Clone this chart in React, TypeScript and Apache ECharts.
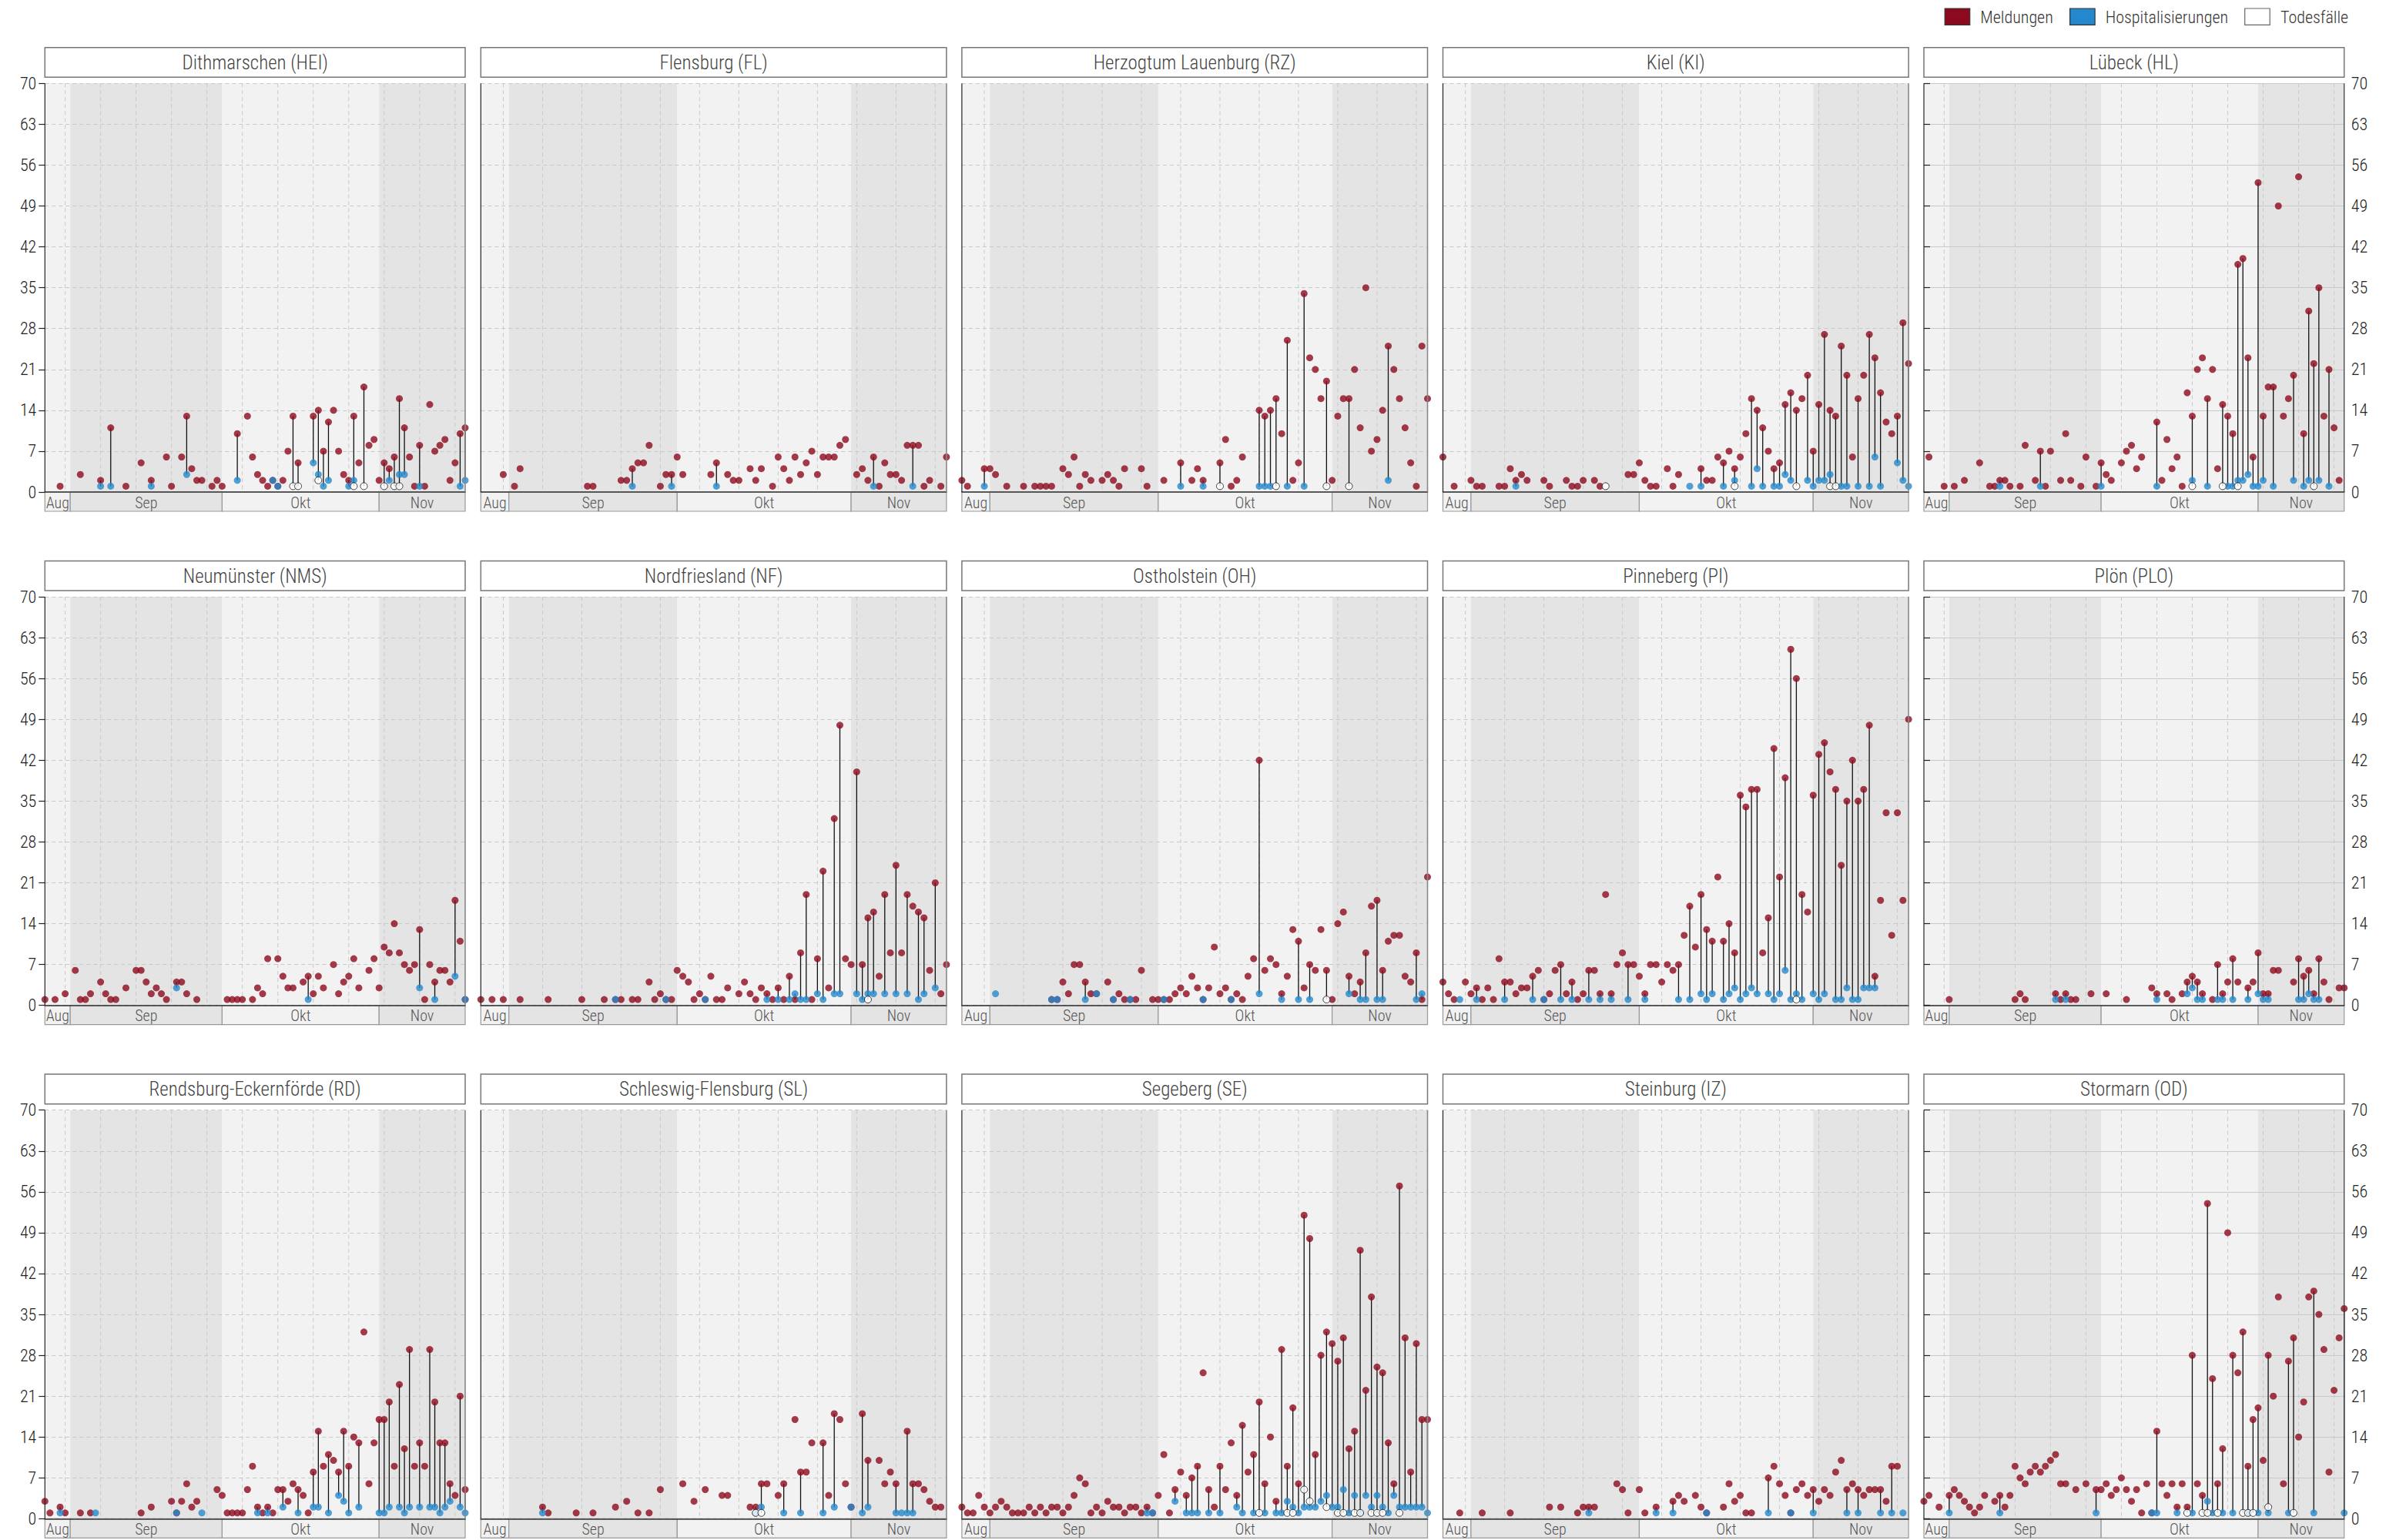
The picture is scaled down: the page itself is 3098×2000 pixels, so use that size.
import React, { useEffect, useRef } from "react";
import * as echarts from "echarts";

const FONT = "'Roboto Condensed', 'Liberation Sans Narrow', 'Arial Narrow', 'Roboto', sans-serif";
const FW = 300;
const RED = "#8C0A1E";
const BLUE = "#2588CC";
const BAND_LIGHT = "#f2f2f2";
const BAND_DARK = "#e4e4e4";

// x axis: day index, 0 = 2020-08-27, 83 = 2020-11-18
const X_MAX = 83;
const Y_MAX = 70;
const Y_STEP = 7;
const MONTH_LABELS = ["Aug", "Sep", "Okt", "Nov"];
const MONTH_START = [0, 5, 35, 66];
const MONTH_END = [5, 35, 66, 83];
const MONDAYS = [4, 11, 18, 25, 32, 39, 46, 53, 60, 67, 74, 81];
const LEGEND = ["Meldungen", "Hospitalisierungen", "Todesfälle"];

// ---- data: [day, value] ----
const HEI_MELD = [[3,1],[7,3],[11,2],[13,11],[16,1],[19,5],[21,2],[24,6],[25,1],[27,6],[28,13],[29,4],[30,2],[31,2],[33,1],[34,2],[35,1],[38,10],[40,13],[41,6],[42,3],[43,2],[44,1],[45,2],[46,1],[47,2],[48,7],[49,13],[50,5],[53,13],[54,14],[55,7],[56,12],[57,14],[58,7],[59,3],[60,2],[61,13],[62,5],[63,18],[64,8],[65,9],[66,2],[67,5],[68,4],[69,6],[70,16],[71,11],[72,6],[73,1],[74,8],[75,1],[76,15],[77,7],[78,8],[79,9],[80,2],[81,5],[82,10],[83,11]];
const HEI_HOSP = [[11,1],[13,1],[21,1],[28,3],[38,2],[45,2],[46,1],[53,5],[54,3],[55,1],[56,2],[60,1],[61,2],[68,2],[70,3],[71,3],[74,1],[82,1],[83,2]];
const HEI_TOD = [[49,1],[50,1],[54,2],[61,1],[63,1],[67,1],[69,1],[70,1]];

const FL_MELD = [[4,3],[6,1],[7,4],[19,1],[20,1],[25,2],[26,2],[27,4],[28,5],[29,5],[30,8],[32,1],[33,3],[34,3],[35,6],[36,3],[41,3],[42,5],[44,3],[45,2],[46,2],[48,4],[49,2],[50,4],[52,1],[53,6],[54,4],[55,2],[56,6],[57,3],[58,5],[59,7],[60,3],[61,6],[62,6],[63,6],[64,8],[65,9],[67,3],[68,4],[69,2],[70,6],[71,1],[72,5],[73,3],[74,3],[75,2],[76,8],[77,8],[78,8],[79,1],[80,2],[82,1],[83,6]];
const FL_HOSP = [[27,1],[34,1],[42,1],[70,1],[77,1]];
const FL_TOD: number[][] = [];

const RZ_MELD = [[0,2],[1,1],[4,4],[5,4],[6,3],[8,1],[11,1],[13,1],[14,1],[15,1],[16,1],[18,4],[19,3],[20,6],[21,1],[22,3],[23,2],[25,2],[26,3],[27,2],[28,1],[29,4],[32,4],[33,1],[36,2],[39,5],[41,2],[42,4],[43,2],[46,5],[47,9],[48,1],[49,2],[50,6],[53,14],[54,13],[55,14],[56,16],[57,10],[58,26],[59,2],[60,5],[61,34],[62,23],[63,21],[64,16],[65,19],[66,2],[67,13],[68,16],[69,16],[70,21],[71,11],[72,35],[73,7],[74,9],[75,14],[76,25],[77,21],[78,16],[79,11],[80,5],[81,1],[82,25],[83,16]];
const RZ_HOSP = [[4,1],[39,1],[43,1],[53,1],[54,1],[55,1],[58,1],[61,1],[76,2]];
const RZ_TOD = [[46,1],[56,1],[65,1],[69,1]];

const KI_MELD = [[0,6],[2,1],[5,2],[6,1],[7,1],[10,1],[11,1],[12,4],[13,2],[14,3],[15,2],[18,2],[19,1],[22,2],[23,1],[24,1],[25,2],[27,2],[28,1],[33,3],[34,3],[35,5],[36,2],[37,1],[38,1],[40,4],[41,1],[42,3],[46,4],[47,2],[48,2],[49,6],[50,5],[51,7],[52,4],[53,6],[54,10],[55,16],[56,14],[57,11],[58,7],[59,4],[60,5],[61,15],[62,17],[63,14],[64,16],[65,20],[66,7],[67,15],[68,27],[69,14],[70,13],[71,25],[72,20],[73,6],[74,16],[75,20],[76,27],[77,23],[78,17],[79,12],[80,10],[81,13],[82,29],[83,22]];
const KI_HOSP = [[13,1],[44,1],[46,1],[50,1],[52,2],[55,1],[56,4],[57,1],[59,1],[60,1],[61,3],[62,2],[65,2],[66,1],[67,2],[68,2],[69,3],[71,1],[72,1],[74,1],[76,1],[77,6],[78,1],[81,5],[82,2],[83,1]];
const KI_TOD = [[29,1],[52,1],[63,1],[69,1],[70,1]];

const HL_MELD = [[1,6],[4,1],[6,1],[8,2],[11,5],[13,1],[14,1],[15,2],[16,2],[17,1],[19,1],[20,8],[22,2],[23,7],[24,1],[25,7],[27,2],[28,10],[29,2],[31,1],[32,6],[34,1],[35,5],[36,3],[37,2],[39,5],[40,7],[41,8],[42,4],[43,6],[46,12],[47,2],[48,9],[49,4],[50,6],[51,1],[52,17],[53,13],[54,21],[55,23],[56,16],[57,21],[58,4],[59,15],[60,13],[61,10],[62,39],[63,40],[64,23],[65,6],[66,53],[67,13],[68,18],[69,18],[70,49],[71,13],[72,16],[73,20],[74,54],[75,10],[76,31],[77,22],[78,35],[79,13],[80,21],[81,11],[82,2]];
const HL_HOSP = [[15,1],[23,1],[35,1],[46,1],[53,2],[56,1],[60,1],[61,1],[62,2],[63,2],[64,3],[65,1],[66,1],[67,2],[69,1],[73,2],[75,1],[76,2],[78,2],[80,1]];
const HL_TOD = [[53,1],[59,1],[62,1],[77,1]];

const NMS_MELD = [[0,1],[2,1],[4,2],[6,6],[7,1],[8,1],[9,2],[11,4],[12,2],[13,1],[14,1],[16,3],[18,6],[19,6],[20,4],[21,2],[22,3],[23,2],[24,1],[26,4],[27,4],[28,2],[30,1],[36,1],[37,1],[38,1],[39,1],[41,1],[42,3],[43,2],[44,8],[46,8],[47,5],[48,3],[49,3],[51,4],[52,5],[53,2],[54,5],[55,3],[57,7],[58,2],[59,4],[60,5],[61,8],[62,3],[64,6],[65,8],[66,3],[67,10],[68,9],[69,14],[70,9],[71,7],[72,6],[73,7],[74,13],[75,1],[76,7],[77,4],[78,6],[79,6],[80,4],[81,18],[82,11],[83,1]];
const NMS_HOSP = [[26,3],[52,1],[74,3],[77,1],[81,5],[83,1]];
const NMS_TOD: number[][] = [];

const NF_MELD = [[0,1],[2,1],[4,1],[7,1],[12,1],[18,1],[22,1],[24,1],[25,1],[27,1],[28,1],[30,4],[31,1],[32,2],[33,1],[34,1],[35,6],[36,5],[37,4],[38,1],[39,2],[40,1],[41,5],[42,1],[43,1],[44,3],[46,2],[47,4],[48,2],[49,1],[50,3],[51,2],[52,1],[53,3],[54,1],[55,5],[56,1],[57,9],[58,19],[59,1],[60,8],[61,23],[62,3],[63,32],[64,48],[65,8],[66,7],[67,40],[68,7],[69,15],[70,16],[71,5],[72,19],[73,9],[74,24],[75,9],[76,19],[77,17],[78,16],[79,15],[80,6],[81,21],[82,2],[83,7]];
const NF_HOSP = [[24,1],[33,1],[40,1],[51,1],[53,1],[55,1],[56,2],[57,1],[58,1],[60,2],[61,1],[63,2],[64,2],[67,2],[68,1],[69,2],[70,2],[72,2],[74,2],[76,2],[78,1],[79,2],[81,3]];
const NF_TOD = [[69,1]];

const OH_MELD = [[16,1],[17,1],[18,4],[19,2],[20,7],[21,7],[22,4],[23,2],[24,2],[26,4],[27,1],[28,2],[29,1],[30,1],[31,1],[32,6],[34,1],[35,1],[36,1],[37,1],[38,2],[39,3],[40,2],[41,5],[42,3],[43,1],[44,3],[45,10],[46,2],[47,3],[48,1],[49,2],[50,1],[51,5],[52,8],[53,42],[54,6],[55,8],[56,7],[57,2],[58,5],[59,13],[60,11],[61,3],[62,7],[63,6],[64,13],[65,6],[66,1],[67,14],[68,16],[69,5],[70,2],[71,4],[72,9],[73,17],[74,18],[75,6],[76,11],[77,12],[78,12],[79,5],[80,4],[81,9],[82,1],[83,22]];
const OH_HOSP = [[6,2],[16,1],[17,1],[22,1],[24,2],[27,1],[30,1],[36,1],[43,1],[48,1],[53,2],[57,1],[60,1],[62,1],[69,2],[71,1],[72,1],[74,1],[75,1],[81,1],[82,2]];
const OH_TOD = [[65,1]];

const PI_MELD = [[0,4],[1,2],[2,1],[4,4],[5,2],[6,3],[7,1],[8,3],[9,1],[10,8],[11,4],[12,4],[13,2],[14,3],[15,3],[16,5],[17,6],[18,1],[19,2],[20,6],[21,7],[22,2],[23,4],[24,1],[25,2],[26,6],[27,6],[28,2],[29,19],[30,2],[31,7],[32,9],[33,7],[34,7],[35,5],[36,2],[37,7],[38,7],[39,4],[40,7],[41,6],[42,7],[43,12],[44,17],[45,10],[46,19],[47,13],[48,11],[49,22],[50,11],[51,14],[52,9],[53,36],[54,34],[55,37],[56,37],[57,9],[58,15],[59,44],[60,22],[61,39],[62,61],[63,56],[64,19],[65,16],[66,36],[67,43],[68,45],[69,40],[70,37],[71,24],[72,35],[73,42],[74,35],[75,37],[76,48],[77,5],[78,18],[79,33],[80,12],[81,33],[82,18],[83,49]];
const PI_HOSP = [[3,1],[6,1],[11,1],[16,1],[18,1],[21,1],[23,1],[26,1],[28,1],[30,1],[33,1],[36,1],[42,1],[44,1],[46,2],[47,1],[48,2],[50,1],[51,2],[52,3],[53,1],[54,2],[55,3],[56,2],[58,2],[59,1],[60,2],[61,6],[62,1],[63,2],[64,1],[66,2],[67,1],[68,2],[70,1],[71,1],[72,3],[73,1],[74,1],[75,3],[76,3],[77,3]];
const PI_TOD = [[63,1]];

const PLO_MELD = [[5,1],[18,1],[19,2],[20,1],[26,2],[27,1],[28,2],[29,1],[30,1],[33,2],[36,2],[40,1],[45,3],[46,2],[48,2],[49,1],[51,2],[52,4],[53,5],[54,4],[55,2],[57,1],[58,7],[59,2],[60,4],[61,8],[62,4],[64,3],[65,4],[66,9],[67,2],[68,2],[69,6],[70,6],[73,4],[74,8],[75,5],[76,6],[77,2],[78,8],[79,4],[80,1],[82,3],[83,3]];
const PLO_HOSP = [[26,1],[28,1],[46,1],[52,2],[53,3],[54,1],[55,1],[58,1],[59,1],[61,1],[64,1],[66,2],[67,1],[68,1],[74,1],[75,1],[76,2],[77,1],[78,1]];
const PLO_TOD: number[][] = [];

const RD_MELD = [[0,3],[1,1],[3,2],[4,1],[7,1],[9,1],[19,1],[21,2],[25,3],[26,1],[27,3],[28,6],[29,2],[30,3],[34,5],[35,4],[36,1],[37,1],[38,1],[39,1],[40,5],[41,9],[42,2],[43,1],[44,2],[45,1],[46,5],[47,5],[48,3],[49,6],[50,5],[51,4],[52,1],[53,8],[54,15],[55,9],[56,11],[57,10],[58,8],[59,15],[60,9],[61,14],[62,13],[63,32],[64,6],[65,13],[66,17],[67,17],[68,20],[69,9],[70,23],[71,12],[72,29],[73,9],[74,13],[75,9],[76,29],[77,20],[78,13],[79,13],[80,6],[81,4],[82,21],[83,5]];
const RD_HOSP = [[3,1],[10,1],[26,1],[31,1],[42,1],[44,1],[47,2],[50,1],[53,2],[54,2],[56,1],[58,4],[59,3],[60,1],[62,2],[66,1],[67,1],[68,2],[70,2],[71,1],[72,2],[74,2],[76,2],[77,2],[78,1],[79,2],[80,3],[82,2],[83,1]];
const RD_TOD: number[][] = [];

const SL_MELD = [[11,2],[12,1],[17,1],[20,1],[24,2],[26,3],[28,1],[30,1],[32,5],[36,6],[38,3],[40,5],[43,4],[44,4],[48,2],[49,2],[50,6],[51,6],[53,4],[54,6],[56,17],[57,8],[58,8],[59,13],[61,13],[62,4],[63,18],[64,17],[65,6],[66,2],[68,18],[69,10],[71,10],[72,6],[73,8],[74,6],[76,15],[77,6],[78,6],[79,5],[80,3],[81,2],[82,2]];
const SL_HOSP = [[11,1],[49,1],[50,2],[54,1],[57,1],[61,1],[63,2],[66,2],[68,1],[69,2],[74,1],[75,1],[76,1],[77,1]];
const SL_TOD = [[49,1],[50,1]];

const SE_MELD = [[0,2],[1,1],[2,1],[3,4],[4,2],[5,1],[6,2],[7,3],[8,2],[9,1],[10,1],[11,1],[12,2],[13,1],[14,2],[15,1],[16,2],[17,2],[18,1],[19,2],[20,4],[21,7],[22,6],[23,1],[24,2],[25,1],[26,3],[27,2],[28,2],[29,1],[30,2],[31,2],[32,1],[33,2],[34,1],[35,4],[36,11],[37,1],[38,5],[39,8],[40,4],[41,7],[42,9],[43,25],[44,5],[45,2],[46,9],[47,5],[48,13],[49,4],[50,16],[51,8],[52,11],[53,20],[54,6],[55,14],[56,3],[57,29],[58,9],[59,19],[60,6],[61,52],[62,48],[63,11],[64,28],[65,32],[66,30],[67,27],[68,31],[69,12],[70,15],[71,46],[72,22],[73,38],[74,26],[75,25],[76,13],[77,6],[78,57],[79,31],[80,8],[81,30],[82,17],[83,17]];
const SE_HOSP = [[33,1],[34,1],[38,3],[40,1],[41,1],[42,1],[44,1],[46,1],[49,2],[50,1],[52,1],[54,1],[56,1],[57,1],[58,3],[59,2],[60,1],[61,2],[62,2],[63,2],[64,3],[65,4],[66,2],[67,2],[68,5],[69,1],[70,4],[71,1],[72,4],[73,2],[74,4],[75,2],[76,1],[77,4],[78,2],[79,2],[80,2],[81,2],[82,2],[83,1]];
const SE_TOD = [[53,1],[58,1],[59,1],[61,5],[62,3],[65,2],[67,1],[68,1],[70,1],[71,1],[73,1],[74,1],[75,1],[78,1]];

const IZ_MELD = [[3,1],[7,1],[12,1],[19,2],[21,2],[24,1],[25,2],[26,2],[27,2],[31,6],[32,5],[33,1],[35,5],[36,1],[38,2],[41,3],[42,4],[43,3],[45,4],[46,2],[47,1],[50,2],[51,6],[52,3],[53,4],[54,1],[55,1],[58,7],[59,9],[60,6],[61,4],[62,1],[63,5],[64,6],[65,4],[66,5],[67,3],[68,5],[69,4],[70,8],[71,10],[72,5],[73,6],[74,5],[75,4],[76,5],[77,5],[78,5],[79,3],[80,9],[81,9]];
const IZ_HOSP = [[26,1],[38,1],[41,1],[47,1],[58,1],[62,1],[66,1],[72,1],[74,1],[78,1],[80,1],[82,1]];
const IZ_TOD: number[][] = [];

const OD_MELD = [[0,3],[1,4],[3,2],[5,4],[6,5],[7,4],[8,3],[9,2],[10,1],[11,2],[12,4],[14,3],[15,4],[16,2],[17,4],[18,9],[19,7],[20,6],[21,8],[22,9],[23,8],[24,9],[25,10],[26,11],[27,6],[28,6],[30,5],[32,6],[34,5],[35,5],[36,6],[37,4],[38,5],[39,7],[40,5],[41,3],[42,5],[43,1],[44,6],[45,1],[46,15],[47,6],[48,4],[49,6],[50,2],[51,6],[52,2],[53,28],[54,6],[55,4],[56,54],[57,24],[58,6],[59,12],[60,49],[61,28],[62,25],[63,32],[64,9],[65,17],[66,19],[67,10],[68,28],[69,21],[70,38],[71,6],[72,27],[73,31],[74,14],[75,20],[76,38],[77,39],[78,35],[79,29],[80,8],[81,22],[82,31],[83,36]];
const OD_HOSP = [[5,1],[15,1],[34,1],[45,1],[46,1],[50,1],[53,1],[56,3],[57,1],[59,1],[61,1],[64,1],[66,1],[68,1],[72,1],[77,1],[83,1]];
const OD_TOD = [[52,1],[55,1],[56,1],[58,1],[63,1],[64,1],[65,1],[68,2],[73,1]];

const PANELS = [
  { name: "Dithmarschen (HEI)", meld: HEI_MELD, hosp: HEI_HOSP, tod: HEI_TOD },
  { name: "Flensburg (FL)", meld: FL_MELD, hosp: FL_HOSP, tod: FL_TOD },
  { name: "Herzogtum Lauenburg (RZ)", meld: RZ_MELD, hosp: RZ_HOSP, tod: RZ_TOD },
  { name: "Kiel (KI)", meld: KI_MELD, hosp: KI_HOSP, tod: KI_TOD },
  { name: "Lübeck (HL)", meld: HL_MELD, hosp: HL_HOSP, tod: HL_TOD },
  { name: "Neumünster (NMS)", meld: NMS_MELD, hosp: NMS_HOSP, tod: NMS_TOD },
  { name: "Nordfriesland (NF)", meld: NF_MELD, hosp: NF_HOSP, tod: NF_TOD },
  { name: "Ostholstein (OH)", meld: OH_MELD, hosp: OH_HOSP, tod: OH_TOD },
  { name: "Pinneberg (PI)", meld: PI_MELD, hosp: PI_HOSP, tod: PI_TOD },
  { name: "Plön (PLO)", meld: PLO_MELD, hosp: PLO_HOSP, tod: PLO_TOD },
  { name: "Rendsburg-Eckernförde (RD)", meld: RD_MELD, hosp: RD_HOSP, tod: RD_TOD },
  { name: "Schleswig-Flensburg (SL)", meld: SL_MELD, hosp: SL_HOSP, tod: SL_TOD },
  { name: "Segeberg (SE)", meld: SE_MELD, hosp: SE_HOSP, tod: SE_TOD },
  { name: "Steinburg (IZ)", meld: IZ_MELD, hosp: IZ_HOSP, tod: IZ_TOD },
  { name: "Stormarn (OD)", meld: OD_MELD, hosp: OD_HOSP, tod: OD_TOD },
];

// ---- layout (px) ----
const COL_LEFT = [58.3, 624.3, 1248.9, 1873.5, 2498];
const COL_WIDTH = [545.7, 604.6, 604.6, 604.6, 545.7];
const ROW_TOP = [108.3, 775, 1441.7];
const PLOT_H = 530.7;
const STRIP_H = 25;

function buildOption() {
  const grid: any[] = [];
  const xAxis: any[] = [];
  const yAxis: any[] = [];
  const series: any[] = [];
  const graphic: any[] = [];

  PANELS.forEach((p, i) => {
    const r = Math.floor(i / 5);
    const c = i % 5;
    const left = COL_LEFT[c];
    const width = COL_WIDTH[c];
    const top = ROW_TOP[r];
    grid.push({ left, top, width, height: PLOT_H, containLabel: false });
    xAxis.push({
      type: "value", gridIndex: i, min: 0, max: X_MAX,
      axisLine: { show: true, onZero: true, lineStyle: { color: "#333", width: 1.6 } },
      axisTick: { show: false }, axisLabel: { show: false }, splitLine: { show: false },
    });
    const labelled = c === 0 || c === 4;
    yAxis.push({
      type: "value", gridIndex: i, min: 0, max: Y_MAX, interval: Y_STEP,
      position: c === 4 ? "right" : "left",
      axisLine: { show: false },
      axisTick: { show: labelled, length: 8, lineStyle: { color: "#222", width: 1.2 } },
      axisLabel: { show: labelled, fontSize: 22, fontWeight: FW, color: "#222", margin: c === 0 ? 11 : 9, fontFamily: FONT },
      splitLine: { show: true, lineStyle: { color: "#c9c9c9", width: 1, type: c === 4 ? "solid" : [5, 4] } },
    });

    // frame: month bands, monday lines, month strip
    const frameData: number[][] = [];
    MONTH_LABELS.forEach((_, k) => frameData.push([0, MONTH_START[k], MONTH_END[k], k]));
    MONDAYS.forEach((d) => frameData.push([1, d, d, 0]));
    MONTH_LABELS.forEach((_, k) => frameData.push([2, MONTH_START[k], MONTH_END[k], k]));
    series.push({
      type: "custom", xAxisIndex: i, yAxisIndex: i, z: -1, clip: false, silent: true,
      data: frameData,
      renderItem: (params: any, api: any) => {
        const kind = api.value(0), s = api.value(1), e = api.value(2), k = api.value(3);
        if (kind === 0) {
          const p0 = api.coord([s, Y_MAX]);
          const p1 = api.coord([e, 0]);
          return { type: "rect", shape: { x: p0[0], y: p0[1], width: p1[0] - p0[0], height: p1[1] - p0[1] },
            style: { fill: k % 2 === 0 ? BAND_LIGHT : BAND_DARK } };
        }
        if (kind === 1) {
          const p0 = api.coord([s, Y_MAX]);
          const p1 = api.coord([s, 0]);
          return { type: "line", shape: { x1: p0[0], y1: p0[1], x2: p1[0], y2: p1[1] },
            style: { stroke: "#c9c9c9", lineWidth: 1, lineDash: [5, 4] } };
        }
        const p0 = api.coord([s, 0]);
        const p1 = api.coord([e, 0]);
        return {
          type: "group",
          children: [
            { type: "rect", shape: { x: p0[0], y: p0[1], width: p1[0] - p0[0], height: STRIP_H },
              style: { fill: k % 2 === 0 ? BAND_LIGHT : BAND_DARK, stroke: "#999", lineWidth: 1.2 } },
            { type: "text", x: (p0[0] + p1[0]) / 2, y: p0[1] + STRIP_H / 2 + 1,
              style: { text: MONTH_LABELS[k], fontSize: 20, fontWeight: FW, fill: "#555", align: "center", verticalAlign: "middle", fontFamily: FONT } },
          ],
        };
      },
    });

    // lollipop connectors
    const byDay: Record<number, number[]> = {};
    [p.meld, p.hosp, p.tod].forEach((arr) =>
      arr.forEach(([d, v]) => { if (v > 0) (byDay[d] = byDay[d] || []).push(v); }));
    const lines: number[][] = [];
    Object.keys(byDay).forEach((k) => {
      const vals = byDay[+k];
      const lo = Math.min(...vals), hi = Math.max(...vals);
      if (vals.length > 1 && hi > lo) lines.push([+k, lo, hi]);
    });
    series.push({
      type: "custom", xAxisIndex: i, yAxisIndex: i, z: 2, silent: true, data: lines,
      renderItem: (params: any, api: any) => {
        const a = api.coord([api.value(0), api.value(1)]);
        const b = api.coord([api.value(0), api.value(2)]);
        return { type: "line", shape: { x1: a[0], y1: a[1], x2: b[0], y2: b[1] }, style: { stroke: "#111", lineWidth: 1.3 } };
      },
    });

    const common = { type: "scatter", xAxisIndex: i, yAxisIndex: i, symbol: "circle", symbolSize: 9, clip: false, silent: true };
    series.push({ ...common, name: LEGEND[0], z: 3, data: p.meld, itemStyle: { color: RED } });
    series.push({ ...common, name: LEGEND[1], z: 4, data: p.hosp, itemStyle: { color: BLUE } });
    series.push({ ...common, name: LEGEND[2], z: 5, data: p.tod, itemStyle: { color: "#fff", borderColor: "#111", borderWidth: 1 } });

    // panel borders
    graphic.push({ type: "line", z: 10, shape: { x1: left, y1: top, x2: left, y2: top + PLOT_H }, style: { stroke: "#222", lineWidth: 1.2 } });
    graphic.push({ type: "line", z: 10, shape: { x1: left + width, y1: top, x2: left + width, y2: top + PLOT_H },
      style: { stroke: c === 4 ? "#333" : "#888", lineWidth: c === 4 ? 1.2 : 1.6 } });
    // title strip
    graphic.push({ type: "rect", z: 10, shape: { x: left, y: top - 46.6, width, height: 38.6 }, style: { fill: "#fff", stroke: "#777", lineWidth: 1.5 } });
    graphic.push({ type: "text", z: 11, x: left + width / 2, y: top - 27, style: { text: p.name, fontSize: 25, fontWeight: FW, fill: "#444", align: "center", verticalAlign: "middle", fontFamily: FONT } });
  });

  // legend
  const sw = [
    { x: 2525.2, fill: RED, stroke: "#333" },
    { x: 2687.6, fill: BLUE, stroke: "#333" },
    { x: 2914.7, fill: "#fff", stroke: "#666" },
  ];
  const tx = [2571.3, 2733.7, 2961];
  sw.forEach((s, k) => {
    graphic.push({ type: "rect", z: 10, shape: { x: s.x, y: 11, width: 32.5, height: 21.3 }, style: { fill: s.fill, stroke: s.stroke, lineWidth: 1.2 } });
    graphic.push({ type: "text", z: 10, x: tx[k], y: 22, style: { text: LEGEND[k], fontSize: 22, fontWeight: FW, fill: "#333", align: "left", verticalAlign: "middle", fontFamily: FONT } });
  });

  return { animation: false, backgroundColor: "#fff", grid, xAxis, yAxis, series, graphic };
}

export default function App() {
  const ref = useRef<HTMLDivElement>(null);
  useEffect(() => {
    if (!ref.current) return;
    const chart = echarts.init(ref.current, undefined, { renderer: "svg" });
    chart.setOption(buildOption() as any);
    return () => chart.dispose();
  }, []);
  return <div ref={ref} style={{ position: "absolute", left: 0, top: 0, width: 3098, height: 2000, background: "#fff" }} />;
}
